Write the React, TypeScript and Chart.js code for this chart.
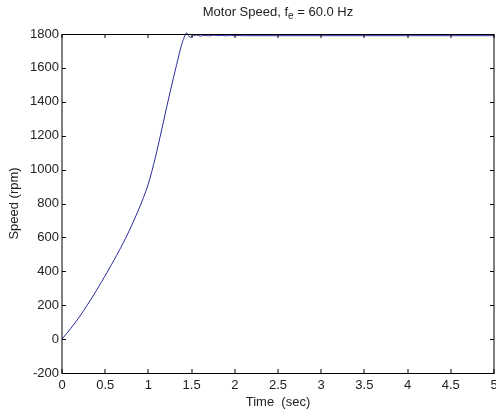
import React, { useEffect, useRef } from "react";
import { Chart, registerables } from "chart.js";

Chart.register(...registerables);

const timeSec: number[] = [
  0, 0.1, 0.2, 0.289, 0.4, 0.521, 0.63, 0.733, 0.83, 0.918, 0.97, 1.019, 1.06, 1.096, 1.173,
  1.25, 1.327, 1.385, 1.424, 1.44, 1.455, 1.47, 1.49, 1.52, 1.56, 1.6, 1.65, 1.7, 1.75, 1.8,
  1.85, 1.9, 1.95, 2.0, 2.05, 2.1, 5.0,
];
const speedRpm: number[] = [
  0, 62, 130, 198, 288, 393, 492, 592, 697, 803, 872, 950, 1030, 1105, 1280,
  1455, 1620, 1738, 1792, 1806, 1800, 1785, 1782, 1790, 1794, 1788, 1792, 1789, 1793, 1790,
  1792, 1789, 1792, 1790, 1791, 1790, 1790,
];
const xTickValues: number[] = [0, 0.5, 1, 1.5, 2, 2.5, 3, 3.5, 4, 4.5, 5];
const yTickValues: number[] = [-200, 0, 200, 400, 600, 800, 1000, 1200, 1400, 1600, 1800];

const titleMain = "Motor Speed, f";
const titleSub = "e";
const titleRest = " = 60.0 Hz";
const xTitle = "Time  (sec)";
const yTitle = "Speed (rpm)";

const FONT_FAMILY = "'Liberation Sans', Arial, Helvetica, sans-serif";
const FONT_SIZE = 13;

const boxPlugin = {
  id: "matlabBox",
  afterDraw(chart: any) {
    const ctx: CanvasRenderingContext2D = chart.ctx;
    const { left, right, top, bottom } = chart.chartArea;
    const xs = chart.scales.x;
    const ys = chart.scales.y;
    ctx.save();
    ctx.strokeStyle = "#000";
    ctx.lineWidth = 1;
    ctx.beginPath();
    ctx.moveTo(left, top + 0.5);
    ctx.lineTo(right, top + 0.5);
    ctx.moveTo(left, bottom + 0.5);
    ctx.lineTo(right + 0.5, bottom + 0.5);
    ctx.moveTo(left, top);
    ctx.lineTo(left, bottom + 1);
    ctx.moveTo(right, top);
    ctx.lineTo(right, bottom + 1);
    ctx.stroke();
    const tl = 4;
    ctx.beginPath();
    xTickValues.forEach((v) => {
      const px = Math.round(xs.getPixelForValue(v));
      ctx.moveTo(px, bottom);
      ctx.lineTo(px, bottom - tl);
      ctx.moveTo(px, top);
      ctx.lineTo(px, top + tl);
    });
    yTickValues.forEach((v) => {
      const py = Math.round(ys.getPixelForValue(v)) + 0.5;
      ctx.moveTo(left, py);
      ctx.lineTo(left + tl, py);
      ctx.moveTo(right, py);
      ctx.lineTo(right - tl, py);
    });
    ctx.stroke();

    ctx.fillStyle = "#222";
    ctx.textBaseline = "alphabetic";
    ctx.textAlign = "left";
    const mainFont = `${FONT_SIZE}px ${FONT_FAMILY}`;
    const subFont = `${Math.round(FONT_SIZE * 0.75)}px ${FONT_FAMILY}`;
    ctx.font = mainFont;
    const w1 = ctx.measureText(titleMain).width;
    const w3 = ctx.measureText(titleRest).width;
    ctx.font = subFont;
    const w2 = ctx.measureText(titleSub).width;
    const total = w1 + w2 + w3;
    const cx = (left + right) / 2;
    let x0 = cx - total / 2;
    const baseY = 16;
    ctx.font = mainFont;
    ctx.fillText(titleMain, x0, baseY);
    x0 += w1;
    ctx.font = subFont;
    ctx.fillText(titleSub, x0, baseY + 3);
    x0 += w2;
    ctx.font = mainFont;
    ctx.fillText(titleRest, x0, baseY);

    ctx.font = mainFont;
    ctx.textAlign = "center";
    ctx.textBaseline = "middle";
    ctx.fillText(xTitle, cx, 402);
    ctx.save();
    ctx.translate(14, (top + bottom) / 2);
    ctx.rotate(-Math.PI / 2);
    ctx.fillText(yTitle, 0, 0);
    ctx.restore();
    ctx.restore();
  },
};

export default function App() {
  const canvasRef = useRef<HTMLCanvasElement | null>(null);

  useEffect(() => {
    if (!canvasRef.current) return;
    const points = timeSec.map((t, i) => ({ x: t, y: speedRpm[i] }));
    const chart = new Chart(canvasRef.current, {
      type: "line",
      data: {
        datasets: [
          {
            data: points,
            borderColor: "#2b2b9c",
            borderWidth: 1,
            pointRadius: 0,
            cubicInterpolationMode: "monotone",
            fill: false,
            clip: 3,
          } as any,
        ],
      },
      options: {
        responsive: false,
        animation: false,
        events: [],
        layout: { padding: { top: 34, right: 2, left: 0, bottom: 0 } },
        plugins: {
          legend: { display: false },
          tooltip: { enabled: false },
          title: { display: false },
        },
        scales: {
          x: {
            type: "linear",
            min: 0,
            max: 5,
            grid: { display: false, drawTicks: false },
            border: { display: false },
            afterBuildTicks: (scale: any) => {
              scale.ticks = xTickValues.map((v) => ({ value: v }));
            },
            afterFit: (scale: any) => {
              scale.height = 41;
              scale.paddingLeft = 0;
              scale.paddingRight = 0;
            },
            ticks: {
              padding: 5,
              color: "#222",
              maxRotation: 0,
              autoSkip: false,
              font: { family: FONT_FAMILY, size: FONT_SIZE },
              callback: (v: any) => String(Number(v)),
            },
          },
          y: {
            type: "linear",
            min: -200,
            max: 1800,
            grid: { display: false, drawTicks: false },
            border: { display: false },
            afterBuildTicks: (scale: any) => {
              scale.ticks = yTickValues.map((v) => ({ value: v }));
            },
            afterFit: (scale: any) => {
              scale.width = 62;
              scale.paddingTop = 0;
              scale.paddingBottom = 0;
            },
            ticks: {
              padding: 3,
              color: "#222",
              autoSkip: false,
              font: { family: FONT_FAMILY, size: FONT_SIZE },
              callback: (v: any) => String(Number(v)),
            },
          },
        },
      },
      plugins: [boxPlugin],
    });
    return () => chart.destroy();
  }, []);

  return (
    <div style={{ position: "fixed", left: 0, top: 0, width: 496, height: 414, background: "#fff" }}>
      <canvas ref={canvasRef} width={496} height={414} style={{ display: "block" }} />
    </div>
  );
}
